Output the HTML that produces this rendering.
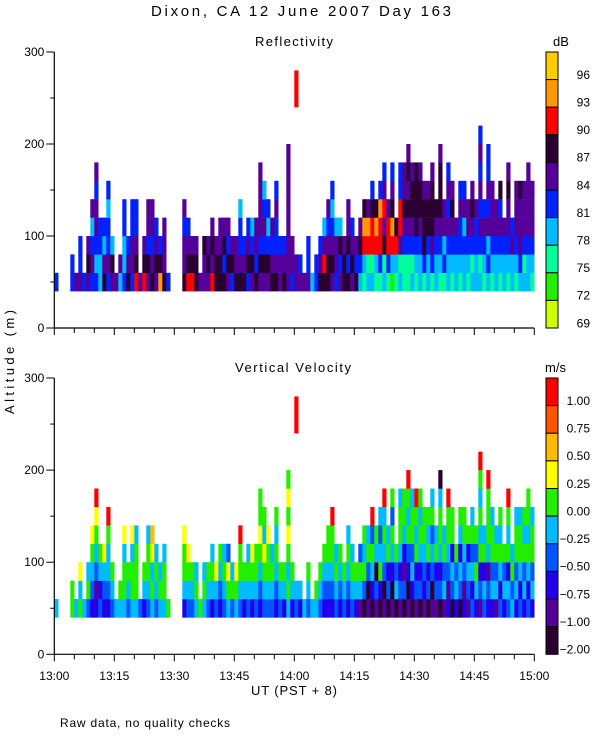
<!DOCTYPE html>
<html><head><meta charset="utf-8"><style>
html,body{margin:0;padding:0;background:#fff;}
svg{display:block;font-family:"Liberation Sans",sans-serif;}
</style></head><body>
<svg id="chart" width="600" height="750" viewBox="0 0 600 750">
<text x="301" y="16" font-size="15" text-anchor="middle" textLength="300">Dixon, CA 12 June 2007  Day 163</text>
<text x="294" y="46" font-size="13" text-anchor="middle" textLength="78">Reflectivity</text>
<text x="293" y="372" font-size="13" text-anchor="middle" textLength="116">Vertical Velocity</text>
<text x="553" y="46" font-size="13">dB</text>
<text x="545" y="372" font-size="13">m/s</text>
<text transform="translate(14,362) rotate(-90)" font-size="13" text-anchor="middle" textLength="104">Altitude (m)</text>
<text x="294" y="695" font-size="13" text-anchor="middle" textLength="86">UT  (PST + 8)</text>
<text x="60" y="727" font-size="12" textLength="170">Raw data, no quality checks</text>
<g id="plots"></g>
</svg>
<script>
const refColors=["#ccff00","#22ee00","#00ff99","#00bbff","#0022ff","#550099","#2a0030","#ff0000","#ff9900","#ffcc00"];
const velColors=["#2a0030","#550099","#2200ee","#0055ff","#00bbff","#22ee00","#ffff00","#ffbb00","#ff5500","#ff0000"];
const refLabels=["96","93","90","87","84","81","78","75","72","69"];
const velLabels=["1.00","0.75","0.50","0.25","0.00","\u22120.25","\u22120.50","\u22120.75","\u22121.00","\u22122.00"];
const yTicks=[0,100,200,300];
const xTickLabels=["13:00","13:15","13:30","13:45","14:00","14:15","14:30","14:45","15:00"];
// per-minute columns, bins of 20 m starting at 40 m, digits = colour index
const refCols=["4","","","","44","5","544","4","565","45435","4345545","3344","6534","454434","563","5","35","43344","654","45544",
"76544","5","765","56455","65455","5654","864","6555","4","","","","65545","7654","765","665","5","556","565","7565",
"665","6655","6465","5645","465","655","65443","654","4654","5643","6455","5645555","564543","56434","6545","654454","554","654","55555555","455",
"55........77","54","5","544","3","44","654","6753","66545","565434","4553","5463","665","64655","5654","645","3465","23786","32785","327764",
"23786","247784","3265754","24775","1378654","2376","3257744","2245655","22456565","3245665","2346666","3345665","246665","334665","2456665","33456","23456665","24355","3345454","234565",
"3345","234454","334354","23455","324565","33445","324545454","23454","34354544","234555","33455","234546","3345","2345565","3354","234555","345556","324555","3345555","234555"];
const velCols=["4","","","","55","4","546","4","354","23456","2134569","3245","2346","234459","345","4","45","45546","345","45546",
"45554","3","245","34554","45467","3454","454","4554","5","","","","24556","3456","345","454","5","454","345","2454",
"346","2345","3454","4563","354","456","34559","245","3454","2456","3455","2345655","345645","34556","3454","234545","345","245","45456565","245",
"34........99","24","4","345","4","45","345","2345","23455","234559","3454","2345","345","23454","3454","245",
"1453","03545","10354","024539","13045","025434","1034549","03254","1024535","0435","1324554","0312455","10235459","0243554","1325459","0324545","123455","032545","1034354","13254",
"03245540","14354","2134559","034255","2435","034245","213455","13425","324354","24535","132545459","34254","23145559","243554","14354","324545","2435","3425459","4354","243554",
"324554","243545","3245455","243554"];

const NS="http://www.w3.org/2000/svg";
const g=document.getElementById('plots');
const X0=54.3,X1=534.3,TMAX=120;
const xs=m=>X0+(X1-X0)*m/TMAX;
function mk(tag,attrs,parent){const e=document.createElementNS(NS,tag);for(const k in attrs)e.setAttribute(k,attrs[k]);(parent||g).appendChild(e);return e;}

function panel(top,bottom,cols,colors,labels,key){
  const ys=v=>bottom-(bottom-top)*v/300;
  const grp=mk('g',{});
  
  
  cols.forEach((s,m)=>{
    if(m>=TMAX)return;
    for(let k=0;k<s.length;k++){
      const c=s[k]; if(c==='.')continue;
      const r=mk('rect',{x:xs(m),y:ys(60+20*k),width:xs(m+1)-xs(m)+0.2,height:ys(40+20*k)-ys(60+20*k)+0.2,fill:colors[+c]},grp);
      
      
    }
  });
  const ya=mk('line',{x1:X0,y1:top,x2:X0,y2:bottom,stroke:'#000','stroke-width':1.2},grp);
  
  
  const xa=mk('line',{x1:X0,y1:bottom,x2:X1,y2:bottom,stroke:'#000','stroke-width':1.2},grp);
  
  
  for(let v=0;v<=300;v+=50){
    const major=v%100===0;
    mk('line',{x1:X0-(major?8:4),y1:ys(v),x2:X0,y2:ys(v),stroke:'#000'},grp);
  }
  yTicks.forEach(v=>{
    const t=mk('text',{x:X0-10,y:ys(v)+4,'font-size':12,'text-anchor':'end'},grp);
    t.textContent=v;
    
    
  });
  for(let m=0;m<=TMAX;m+=5){
    const major=m%15===0;
    mk('line',{x1:xs(m),y1:bottom,x2:xs(m),y2:bottom+(major?7:5),stroke:'#000'},grp);
  }
  const cx=546,cw=12,bh=(bottom-top)/10;
  labels.forEach((lab,i)=>{
    const r=mk('rect',{x:cx,y:top+i*bh,width:cw,height:bh,fill:colors[9-i],stroke:'#000','stroke-width':1},grp);
    
    
    const t=mk('text',{x:590,y:top+i*bh+bh*0.83+4,'font-size':12,'text-anchor':'end'},grp);
    t.textContent=lab;
    
    
  });
}
panel(52,328,refCols,refColors,refLabels,'reflectivity');
panel(378,654.3,velCols,velColors,velLabels,'velocity');
xTickLabels.forEach((lab,i)=>{
  const t=mk('text',{x:xs(i*15),y:680,'font-size':12,'text-anchor':'middle'});
  t.textContent=lab;
  
  
});
</script>
</body></html>
